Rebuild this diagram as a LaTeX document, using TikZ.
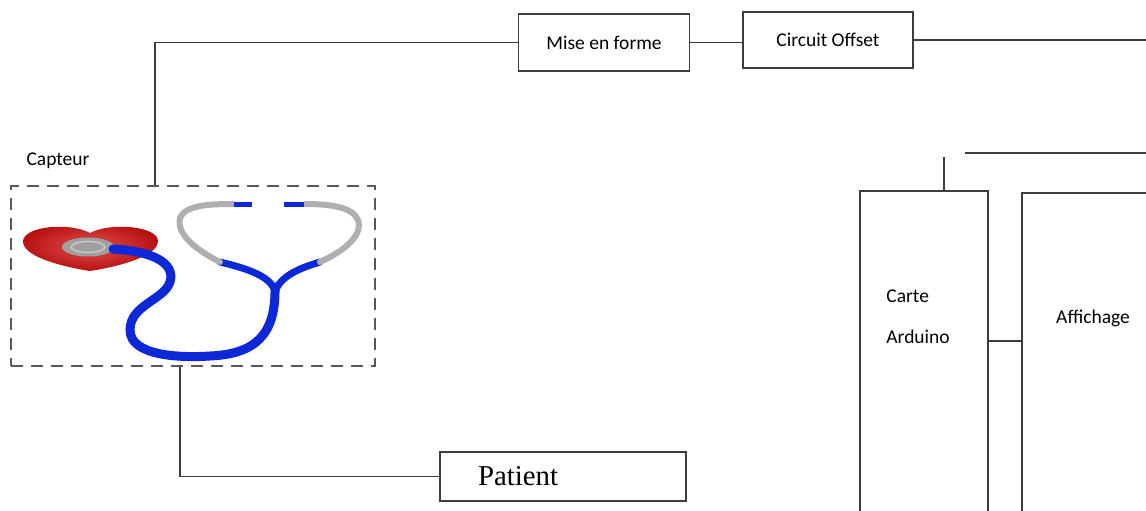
\documentclass[tikz,border=0pt]{standalone}
\usepackage{fontspec}
\setmainfont{Carlito}
\newfontfamily\timesfont{Liberation Serif}
\usepackage{tikz}
\usetikzlibrary{positioning}
\definecolor{wirecol}{RGB}{60,60,60}
\definecolor{tubeblue}{RGB}{12,40,215}
\definecolor{earsilver}{RGB}{175,175,175}
\definecolor{heartred}{RGB}{215,20,20}

\begin{document}
\begin{tikzpicture}[x=0.5pt, y=-0.5pt, font=\fontsize{9.75}{11.5}\selectfont,
  box/.style={draw=wirecol, line width=0.9pt, inner sep=0pt},
  capbox/.style={draw=wirecol!85, line width=0.9pt, dash pattern=on 6pt off 4pt, inner sep=0pt},
  wire/.style={draw=wirecol, line width=0.9pt},
  tube/.style={tubeblue, line width=4.5pt, line cap=round},
  ear/.style={earsilver, line width=3pt, line cap=round}]
\useasboundingbox (0,0) rectangle (1146,510);
\clip (0,0) rectangle (1146,510);

% processing chain at the top
\node[box, minimum width=85.5pt, minimum height=28.5pt] (mise) at (604,42.5) {Mise en forme};
\node[box, minimum width=85pt, minimum height=28pt] (offset) at (828,40) {Circuit Offset};

% sensor
\node[capbox, minimum width=182pt, minimum height=90pt] (capteur) at (193,276) {};
\node (capteurlbl) at (58,161) {Capteur};
\node[box, minimum width=123pt, minimum height=24.5pt, font=\timesfont\fontsize{14.4}{16}\selectfont] (patient) at (563,476.5) {Patient\hspace*{45pt}};

% board and display (run past the lower and right edges)
\node[box, minimum width=64pt, minimum height=169.5pt] (arduino) at (924,360.5) {};
\node[anchor=north west, inner sep=0pt, align=left, font=\fontsize{9.75}{20.5}\selectfont] (arduinolbl) at (886,289) {Carte\\Arduino};
\node[box, minimum width=79pt, minimum height=168.5pt] (affichage) at (1101,361.5) {};
\node (affichagelbl) at (1093,318) {Affichage};

% stethoscope on a heart
\shade[inner color=heartred!75!white, outer color=heartred!85!black]
  (90,271) .. controls (70,268) and (22,258) .. (23,241)
  .. controls (24,226) and (70,222) .. (90,233)
  .. controls (110,222) and (158,226) .. (158,241)
  .. controls (158,258) and (110,268) .. (90,271) -- cycle;
\fill[gray!75] (88,247) ellipse (26 and 9.5);
\draw[gray!45, line width=0.8pt] (88,247) ellipse (17 and 5.5);
\draw[tube] (113,249) .. controls (150,251) and (176,262) .. (170,282)
  .. controls (164,300) and (130,305) .. (130,330)
  .. controls (130,356) and (180,358) .. (210,356)
  .. controls (256,354) and (276,334) .. (275,287);
\draw[tube, line width=3.5pt] (275,292) .. controls (272,276) and (245,268) .. (220,262);
\draw[tube, line width=3.5pt] (275,292) .. controls (280,276) and (300,268) .. (320,262);
\draw[ear] (220,262) .. controls (196,250) and (176,234) .. (180,218)
  .. controls (185,205) and (210,204) .. (233,204);
\draw[ear] (320,262) .. controls (346,250) and (363,235) .. (358,220)
  .. controls (353,207) and (330,204) .. (305,204);
\draw[tubeblue, line width=2.5pt] (234,204) -- (252,204);
\draw[tubeblue, line width=2.5pt] (304,204) -- (284,204);

% wiring
\coordinate (captap) at (155,0);
\coordinate (pattap) at (180,0);
\coordinate (outright) at (1146,0);
\coordinate (inright) at (1146,153);
\coordinate (inleft) at (965,153);
\coordinate (ardtap) at (944,157);
\coordinate (linky) at (0,341);
\draw[wire] (mise.west) -| (capteur.north -| captap);
\draw[wire] (mise.east) -- (offset.west |- mise.east);
\draw[wire] (offset.east) -- (offset.east -| outright);
\draw[wire] (inright) -- (inleft);
\draw[wire] (ardtap) -- (ardtap |- arduino.north);
\draw[wire] (capteur.south -| pattap) |- (patient.west);
\draw[wire] (arduino.east |- linky) -- (affichage.west |- linky);
\end{tikzpicture}
\end{document}
